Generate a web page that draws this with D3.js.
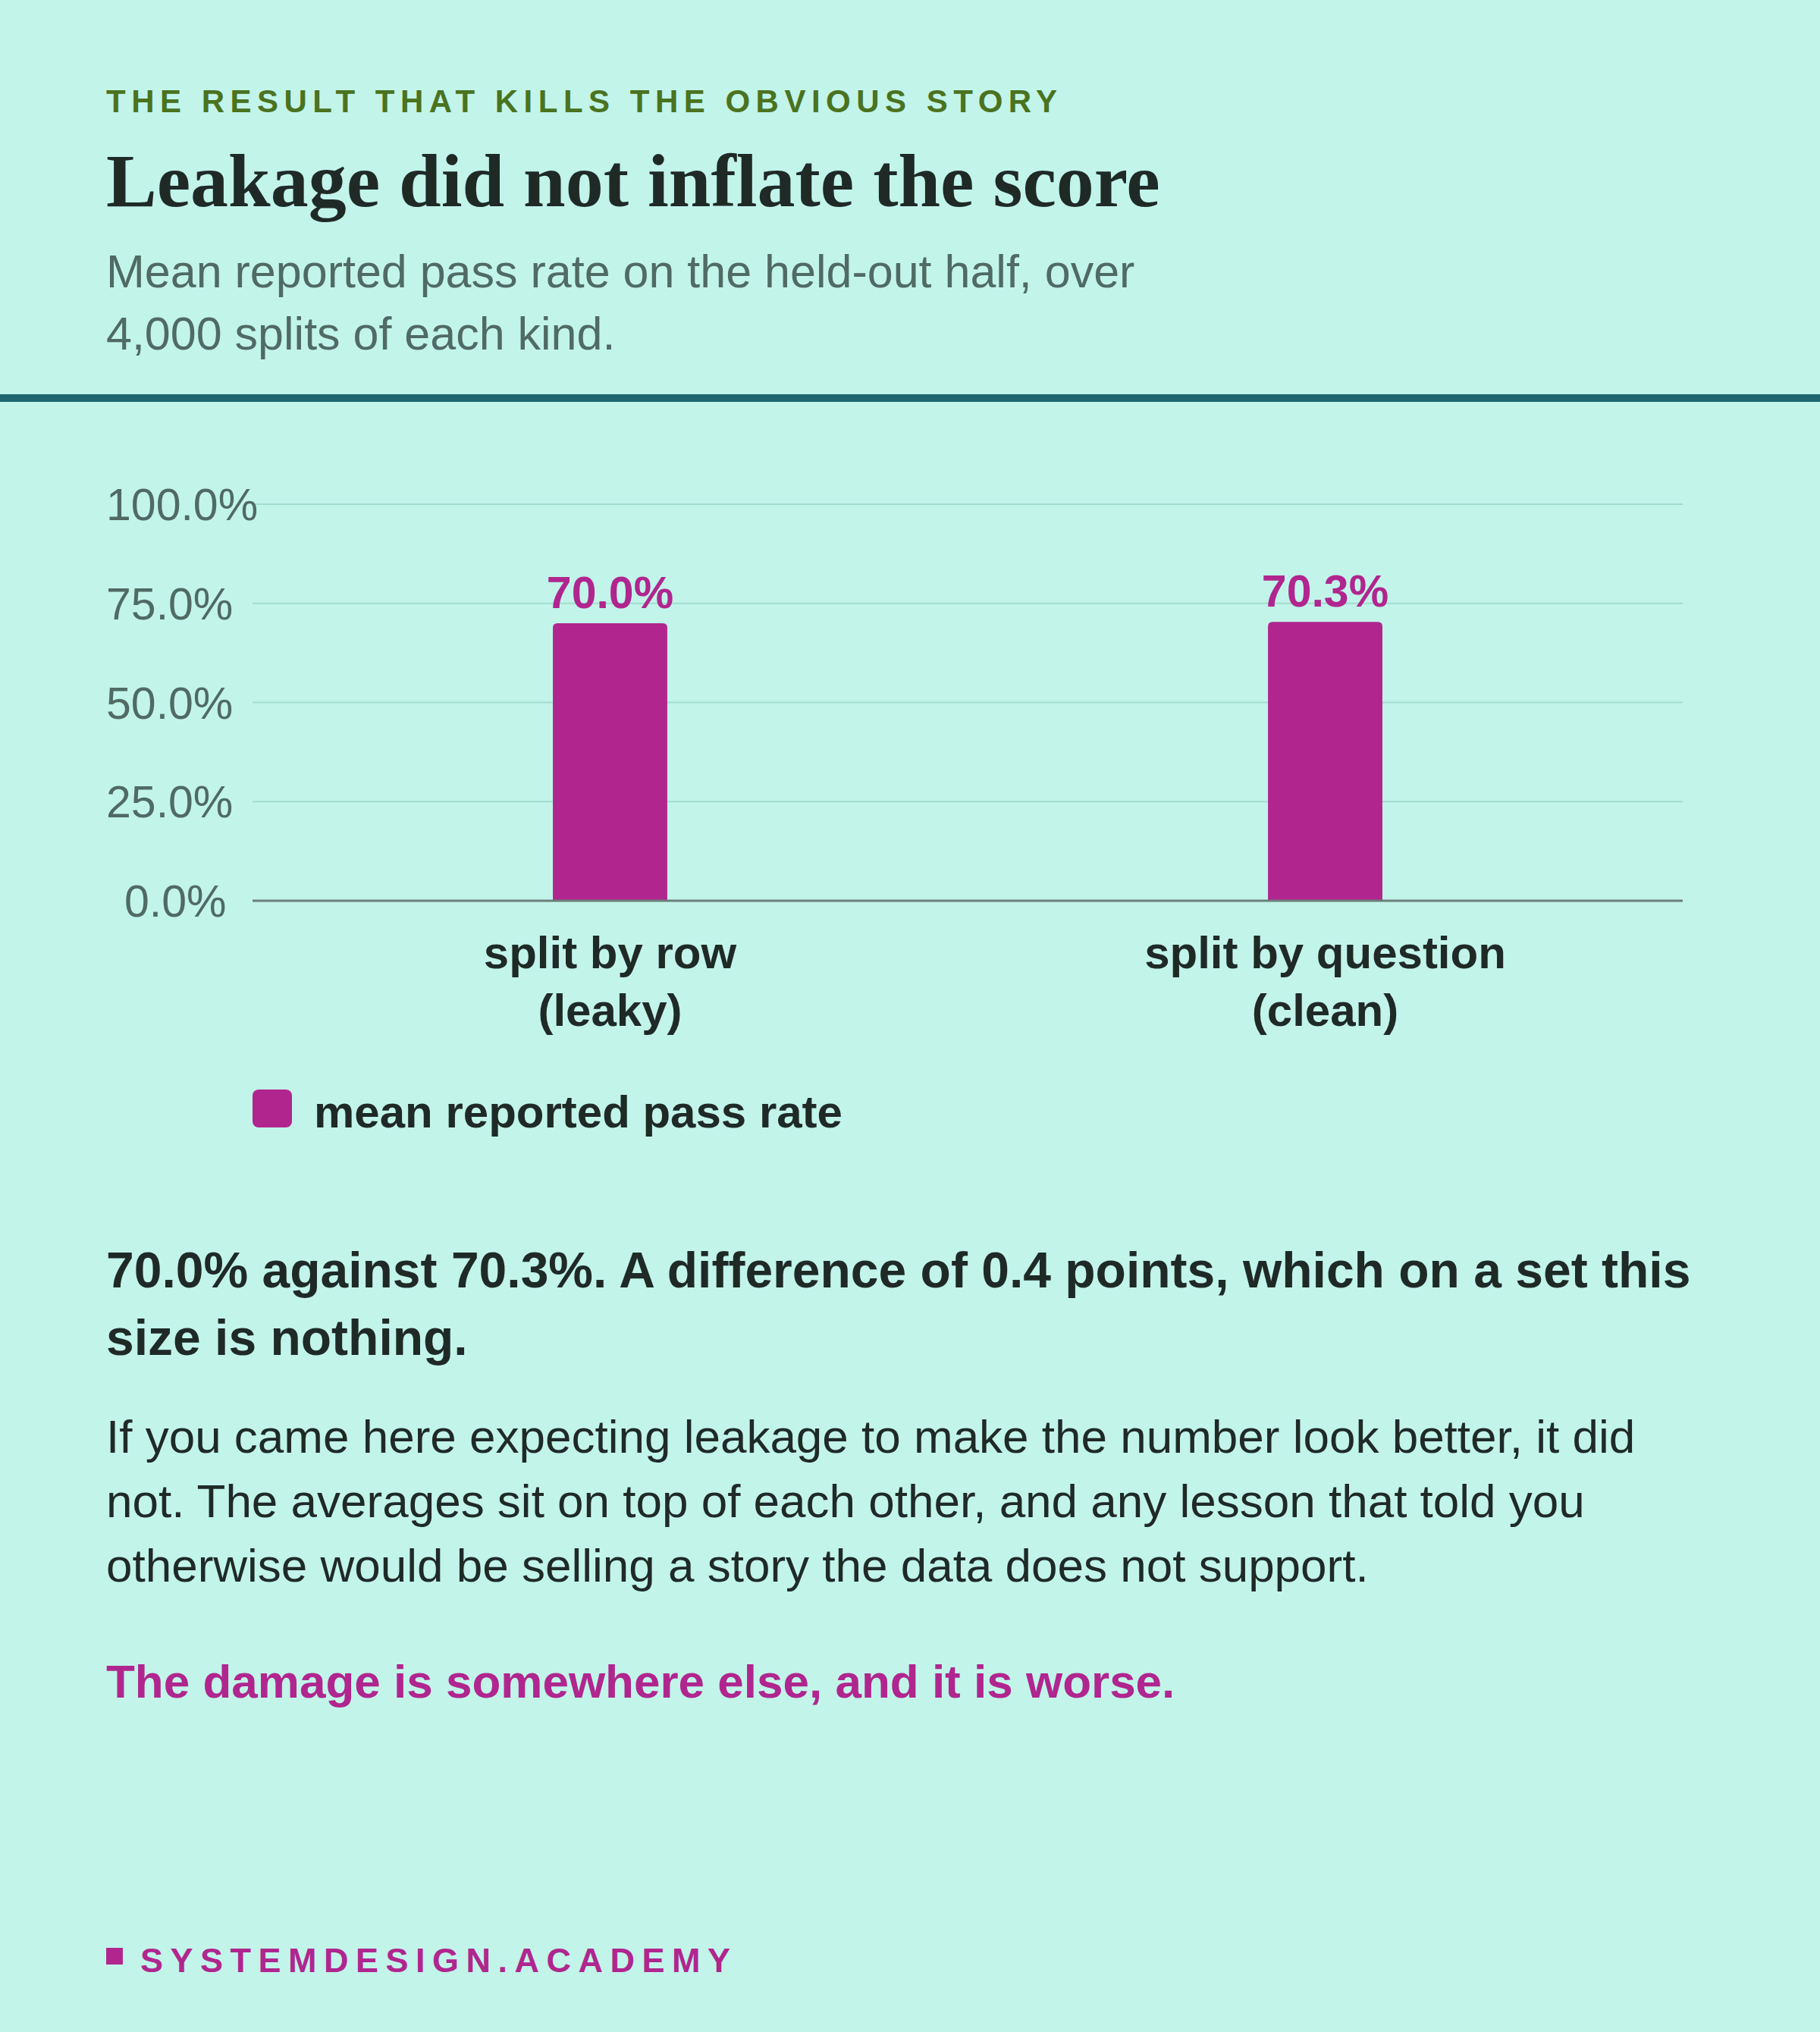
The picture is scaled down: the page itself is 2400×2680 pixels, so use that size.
<!DOCTYPE html>
<html>
<head>
<meta charset="utf-8">
<script src="https://cdn.jsdelivr.net/npm/d3@7"></script>
<style>
  body { margin: 0; background: #c2f4ea; }
  svg { display: block; font-family: "Liberation Sans", Arial, sans-serif; }
</style>
</head>
<body>
<svg id="chart" width="2400" height="2680"></svg>
<script>
const categories = [["split by row", "(leaky)"], ["split by question", "(clean)"]];
const values = [70.0, 70.3];
const yTicks = [0, 25, 50, 75, 100];
const seriesName = "mean reported pass rate";

const pink = "#b0268e";
const dark = "#1f2a27";
const svg = d3.select("#chart");
svg.append("rect").attr("width", 2400).attr("height", 2680).attr("fill", "#c2f4ea");

// header
svg.append("text").attr("x", 140).attr("y", 148).attr("fill", "#4a7320")
  .attr("font-size", 42).attr("font-weight", 700).attr("letter-spacing", 7.5)
  .text("THE RESULT THAT KILLS THE OBVIOUS STORY");
svg.append("text").attr("x", 140).attr("y", 272).attr("fill", dark)
  .attr("font-family", "'Liberation Serif', 'DejaVu Serif', serif")
  .attr("font-size", 100).attr("font-weight", 700)
  .text("Leakage did not inflate the score");
["Mean reported pass rate on the held-out half, over", "4,000 splits of each kind."]
  .forEach((t, i) => svg.append("text").attr("x", 140).attr("y", 379 + i * 82)
    .attr("fill", "#4f6b63").attr("font-size", 61).text(t));
svg.append("rect").attr("x", 0).attr("y", 520).attr("width", 2400).attr("height", 10).attr("fill", "#1d6670");

// chart
const x = d3.scaleBand().domain(d3.range(values.length)).range([333, 2219])
  .paddingInner(0.84).paddingOuter(0.42);
const y = d3.scaleLinear().domain([0, 100]).range([1188, 665]);

svg.append("g").selectAll("line").data(yTicks.slice(1)).join("line")
  .attr("x1", 333).attr("x2", 2219).attr("y1", d => y(d)).attr("y2", d => y(d))
  .attr("stroke", "#a3dccd").attr("stroke-width", 2);
svg.append("g").selectAll("text").data(yTicks).join("text")
  .attr("x", d => d === 0 ? 164 : 140).attr("y", d => y(d) + 21)
  .attr("font-size", 59).attr("fill", "#4f6b63").text(d => d.toFixed(1) + "%");

svg.append("g").selectAll("path").data(values).join("path")
  .attr("fill", pink)
  .attr("d", (d, i) => {
    const x0 = x(i), w = x.bandwidth(), y0 = y(d), b = y(0), r = 6;
    return `M${x0},${b}V${y0 + r}Q${x0},${y0} ${x0 + r},${y0}H${x0 + w - r}Q${x0 + w},${y0} ${x0 + w},${y0 + r}V${b}Z`;
  });
svg.append("line").attr("x1", 333).attr("x2", 2219).attr("y1", y(0)).attr("y2", y(0))
  .attr("stroke", "#6b7f7a").attr("stroke-width", 3);

svg.append("g").selectAll("text").data(values).join("text")
  .attr("x", (d, i) => x(i) + x.bandwidth() / 2).attr("y", d => y(d) - 20)
  .attr("text-anchor", "middle").attr("font-size", 59).attr("font-weight", 700)
  .attr("fill", pink).text(d => d.toFixed(1) + "%");

categories.forEach((c, i) => c.forEach((t, j) =>
  svg.append("text").attr("x", x(i) + x.bandwidth() / 2).attr("y", 1277 + j * 76)
    .attr("text-anchor", "middle").attr("font-size", 60).attr("font-weight", 700)
    .attr("fill", dark).text(t)));

// legend
svg.append("rect").attr("x", 333).attr("y", 1437).attr("width", 52).attr("height", 50)
  .attr("rx", 8).attr("fill", pink);
svg.append("text").attr("x", 414).attr("y", 1487).attr("font-size", 60).attr("font-weight", 700)
  .attr("fill", dark).text(seriesName);

// text
["70.0% against 70.3%. A difference of 0.4 points, which on a set this", "size is nothing."]
  .forEach((t, i) => svg.append("text").attr("x", 140).attr("y", 1698 + i * 89)
    .attr("font-size", 66).attr("font-weight", 700).attr("fill", dark).text(t));
["If you came here expecting leakage to make the number look better, it did",
 "not. The averages sit on top of each other, and any lesson that told you",
 "otherwise would be selling a story the data does not support."]
  .forEach((t, i) => svg.append("text").attr("x", 140).attr("y", 1916 + i * 85)
    .attr("font-size", 62).attr("fill", dark).text(t));
svg.append("text").attr("x", 140).attr("y", 2239).attr("font-size", 62).attr("font-weight", 700)
  .attr("fill", pink).text("The damage is somewhere else, and it is worse.");

// footer
svg.append("rect").attr("x", 140).attr("y", 2569).attr("width", 22).attr("height", 22).attr("fill", pink);
svg.append("text").attr("x", 185).attr("y", 2601).attr("font-size", 45).attr("font-weight", 700)
  .attr("letter-spacing", 9.5).attr("fill", pink).text("SYSTEMDESIGN.ACADEMY");
</script>
</body>
</html>
